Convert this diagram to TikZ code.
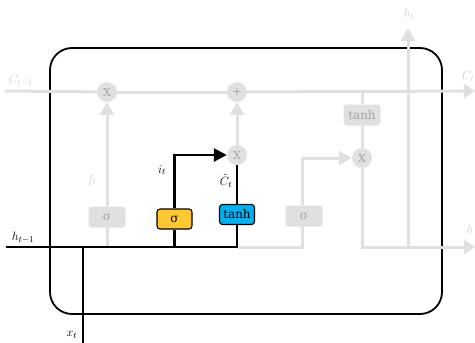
\documentclass[tikz,border=0pt]{standalone}
\usepackage{fontspec}
\newfontfamily\boxfont{DejaVu Serif}
\usetikzlibrary{arrows.meta,calc}
\definecolor{gline}{RGB}{224,224,224}
\definecolor{gtext}{RGB}{165,165,165}
\definecolor{glabel}{RGB}{205,205,205}
\definecolor{gyellow}{RGB}{255,200,50}
\definecolor{gblue}{RGB}{0,176,240}
\begin{document}
\begin{tikzpicture}[x=1pt,y=-1pt,
  circ/.style={circle,fill=gline,text=gtext,minimum size=20pt,inner sep=0pt,font=\boxfont\fontsize{11}{12}\selectfont},
  graybox/.style={rectangle,rounded corners=3pt,fill=gline,text=gtext,minimum width=37pt,minimum height=21pt,inner sep=0pt,font=\boxfont\fontsize{12}{14}\selectfont},
  colbox/.style={rectangle,rounded corners=3pt,draw=black,line width=1.1pt,minimum width=35pt,minimum height=20pt,inner sep=0pt,font=\boxfont\fontsize{12}{14}\selectfont},
  gl/.style={draw=gline,line width=3pt},
  bl/.style={draw=black,line width=2.6pt},
  garrow/.style={-{Triangle[length=13pt,width=14pt]}},
  barrow/.style={-{Triangle[length=13pt,width=13pt]}},
  glab/.style={text=glabel,font=\fontsize{13}{15}\selectfont,inner sep=0pt},
  blab/.style={text=black,font=\fontsize{13}{15}\selectfont,inner sep=0pt}]
\useasboundingbox (0,0) rectangle (475,343);
% outer cell
\draw[line width=1.8pt,rounded corners=22pt] (50,48) rectangle (442,314);
% coordinates
\coordinate (cin) at (5,91);
\coordinate (cout) at (475,91);
\coordinate (ctap) at (362,91);
\coordinate (hin) at (6,247);
\coordinate (hout) at (475,247);
\coordinate (hjoin) at (408,247);
\coordinate (htop) at (408,28);
\coordinate (xin) at (83,343);
\coordinate (xjoin) at (83,247);
% nodes
\node[circ] (fx) at (107,92) {X};
\node[circ] (plus) at (237,92) {+};
\node[circ] (ix) at (237,155) {X};
\node[circ] (ox) at (362,158) {X};
\node[graybox] (fs) at (107,217) {σ};
\node[colbox,fill=gyellow] (is) at (174.5,219) {σ};
\node[colbox,fill=gblue] (ct) at (237,214.5) {tanh};
\node[graybox] (os) at (304,216) {σ};
\node[graybox] (th) at (362,115) {tanh};
% gray connectors
\draw[gl] (cin) -- (fx);
\draw[gl] (fx) -- (plus);
\draw[gl,-{Triangle[length=11pt,width=14pt]}] (plus) -- (cout);
\draw[gl,garrow] (fs) -- (fx);
\draw[gl] (fs) -- (fs |- hin);
\draw[gl,garrow] (ix) -- (plus);
\draw[gl] (ctap) -- (th);
\draw[gl] (th) -- (ox);
\draw[gl,-{Triangle[length=11pt,width=14pt]}] (ox) |- (hout);
\draw[gl,garrow] (hjoin) -- (htop);
\draw[gl,garrow] (os.north -| 302,0) |- (ox);
\draw[gl] (os.south -| 302,0) |- (ct |- hin);
% black connectors
\draw[bl] (hin) -| (ct);
\draw[bl] (is) -- (is |- hin);
\draw[bl,barrow] (is) |- (ix);
\draw[bl] (ct) -- (ix);
\draw[bl] (xin) -- (xjoin);
% labels
\node[glab] (lcin) at (21,81) {$C_{t-1}$};
\node[glab,anchor=west] (lcout) at (462,76) {$C_t$};
\node[glab] (lht) at (409,14) {$h_t$};
\node[glab] (lhout) at (470,229) {$h$};
\node[glab] (lft) at (92,180) {$f_t$};
\node[blab] (lit) at (162,170) {$i_t$};
\node[blab] (lct) at (226,181) {$\tilde{C}_t$};
\node[blab] (lhin) at (23,238) {$h_{t-1}$};
\node[blab] (lxt) at (72,335) {$x_t$};
\end{tikzpicture}
\end{document}
